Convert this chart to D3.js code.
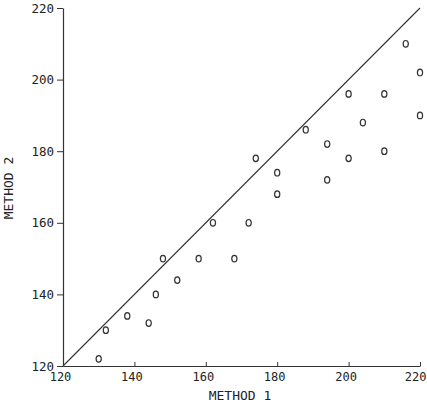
<!DOCTYPE html>
<html>
<head>
<meta charset="utf-8">
<script src="https://cdn.jsdelivr.net/npm/d3@7"></script>
<style>
  body { margin: 0; background: #fff; }
  svg text { font-family: "DejaVu Sans Mono", monospace; fill: #222; }
</style>
</head>
<body>
<div id="chart"></div>
<script>
// Method 1 vs method 2 readings
const method1 = [130, 132, 138, 144, 146, 148, 152, 158, 162, 168, 172, 174, 180, 180,
                 188, 194, 194, 200, 200, 204, 210, 210, 216, 220, 220];
const method2 = [122, 130, 134, 132, 140, 150, 144, 150, 160, 150, 160, 178, 174, 168,
                 186, 182, 172, 196, 178, 188, 196, 180, 210, 202, 190];
const xTicks = [120, 140, 160, 180, 200, 220];
const yTicks = [120, 140, 160, 180, 200, 220];

const width = 427, height = 408;
const plotLeft = 63, plotRight = 420, plotTop = 8, plotBottom = 366;

const svg = d3.select("#chart").append("svg")
  .attr("width", width)
  .attr("height", height);

const x = d3.scaleLinear().domain([120, 220]).range([plotLeft, plotRight]);
const y = d3.scaleLinear().domain([120, 220]).range([plotBottom, plotTop]);

// x axis, small ticks pointing up into the plot
const xAxis = svg.append("g")
  .attr("transform", `translate(0,${plotBottom})`)
  .call(d3.axisBottom(x).tickValues(xTicks).tickSizeInner(-4).tickSizeOuter(0).tickPadding(6));
xAxis.select(".domain").attr("stroke", "#333").attr("stroke-width", 1.2);
xAxis.selectAll(".tick line").attr("stroke", "#333");
xAxis.selectAll("text").attr("font-size", 12).attr("fill", "#222")
  .attr("font-family", "DejaVu Sans Mono, monospace")
  .attr("x", -3).attr("dy", "0.71em");
// last label sits against the right edge
xAxis.selectAll("text").filter(d => d === 220)
  .attr("text-anchor", "end").attr("x", 6);

// y axis, ticks pointing outward
const yAxis = svg.append("g")
  .attr("transform", `translate(${plotLeft},0)`)
  .call(d3.axisLeft(y).tickValues(yTicks).tickSize(6).tickSizeOuter(0).tickPadding(3));
yAxis.select(".domain").attr("stroke", "#333").attr("stroke-width", 1.2);
yAxis.selectAll(".tick line").attr("stroke", "#333");
yAxis.selectAll("text").attr("font-size", 12.5).attr("fill", "#222")
  .attr("font-family", "DejaVu Sans Mono, monospace");

// line of equality
svg.append("line")
  .attr("x1", x(120)).attr("y1", y(120))
  .attr("x2", x(220)).attr("y2", y(220))
  .attr("stroke", "#333")
  .attr("stroke-width", 1.1);

// points drawn as small "o" rings
svg.append("g").selectAll("ellipse")
  .data(method1.map((d, i) => [d, method2[i]]))
  .join("ellipse")
  .attr("cx", d => x(d[0]))
  .attr("cy", d => y(d[1]))
  .attr("rx", 2.6)
  .attr("ry", 3.3)
  .attr("fill", "none")
  .attr("stroke", "#333")
  .attr("stroke-width", 1.2);

// axis titles
svg.append("text")
  .attr("x", 240).attr("y", 400)
  .attr("text-anchor", "middle")
  .attr("font-size", 13)
  .text("METHOD 1");

svg.append("text")
  .attr("transform", "translate(13,188) rotate(-90)")
  .attr("text-anchor", "middle")
  .attr("font-size", 13)
  .text("METHOD 2");
</script>
</body>
</html>
